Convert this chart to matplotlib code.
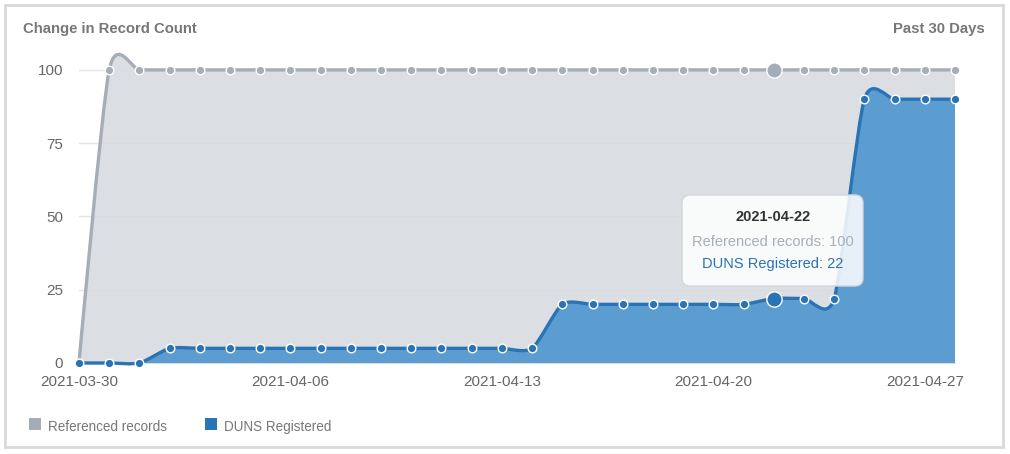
import matplotlib
matplotlib.use("Agg")

import matplotlib.dates as mdates
import matplotlib.pyplot as plt
import pandas as pd
from matplotlib.patches import FancyBboxPatch, PathPatch, Rectangle
from matplotlib.path import Path
from matplotlib.transforms import IdentityTransform

plt.rcParams["font.family"] = ["Liberation Sans", "DejaVu Sans"]

# data (one point per day)
dates = pd.date_range("2021-03-30", periods=30, freq="D")
referenced = [0, 100, 100, 100, 100, 100, 100, 100, 100, 100,
              100, 100, 100, 100, 100, 100, 100, 100, 100, 100,
              100, 100, 100, 100, 100, 100, 100, 100, 100, 100]
duns = [0, 0, 0, 5, 5, 5, 5, 5, 5, 5,
        5, 5, 5, 5, 5, 5, 20, 20, 20, 20,
        20, 20, 20, 22, 22, 22, 90, 90, 90, 90]
y_ticks = [0, 25, 50, 75, 100]
hover_idx = 23  # 2021-04-22

GRAY_LINE = "#a5aeb6"
GRAY_FILL = "#d8dbe0"
BLUE_LINE = "#2a73b5"
BLUE_FILL = "#579bd1"
TEXT = "#666666"

W, H = 1010, 454


def spline(xs, ys, smoothing=3.2):
    # highcharts-style spline control points
    n = len(xs)
    denom = smoothing + 1
    left = [(xs[i], ys[i]) for i in range(n)]
    right = list(left)
    for i in range(1, n - 1):
        x, y = xs[i], ys[i]
        lx = (smoothing * x + xs[i - 1]) / denom
        ly = (smoothing * y + ys[i - 1]) / denom
        rx = (smoothing * x + xs[i + 1]) / denom
        ry = (smoothing * y + ys[i + 1]) / denom
        corr = (ry - ly) * (rx - x) / (rx - lx) + y - ry
        left[i] = (lx, ly + corr)
        right[i] = (rx, ry + corr)
    verts = [(xs[0], ys[0])]
    codes = [Path.MOVETO]
    for i in range(1, n):
        verts += [right[i - 1], left[i], (xs[i], ys[i])]
        codes += [Path.CURVE4] * 3
    return verts, codes


def draw_series(ax, xs, ys, line_color, fill_color, fill_alpha, z):
    verts, codes = spline(xs, ys)
    area = Path(verts + [(xs[-1], 0), (xs[0], 0), (xs[0], 0)],
                codes + [Path.LINETO, Path.LINETO, Path.CLOSEPOLY])
    ax.add_patch(PathPatch(area, fc=fill_color, ec="none", alpha=fill_alpha, zorder=z))
    ax.add_patch(PathPatch(Path(verts, codes), fill=False, ec=line_color, lw=2.4,
                           capstyle="round", joinstyle="round", zorder=z + 0.1, clip_on=False))
    ax.plot(xs, ys, "o", ms=6.2, mfc=line_color, mec="white", mew=1.0,
            zorder=z + 0.2, clip_on=False)
    ax.plot([xs[hover_idx]], [ys[hover_idx]], "o", ms=11, mfc=line_color, mec="white",
            mew=1.0, zorder=z + 0.3, clip_on=False)


fig = plt.figure(figsize=(W / 100, H / 100), dpi=100)
ax = fig.add_axes([79 / W, 1 - 363 / H, (955 - 79) / W, (363 - 40) / H])

x = mdates.date2num(dates)
draw_series(ax, x, referenced, GRAY_LINE, GRAY_FILL, 0.9, 2)
draw_series(ax, x, duns, BLUE_LINE, BLUE_FILL, 0.97, 3)

ax.set_xlim(x[0], x[-1])
ax.set_ylim(0, 110.2)
ax.set_yticks(y_ticks)
ax.set_xticks(x[::7])
ax.set_xticklabels([d.strftime("%Y-%m-%d") for d in dates[::7]])
ax.tick_params(axis="both", length=0, labelsize=11, labelcolor=TEXT)
ax.tick_params(axis="y", pad=11.5)
ax.tick_params(axis="x", pad=9)
ax.yaxis.grid(True, color="#e4e4e4", lw=1)
ax.set_axisbelow(True)
for side in ["left", "right", "top"]:
    ax.spines[side].set_visible(False)
ax.spines["bottom"].set_color("#dcdcdc")

# outer frame
fig.patches.append(Rectangle((5 / W, 1 - 447 / H), 998 / W, 442 / H, transform=fig.transFigure,
                             fill=False, ec="#d9d9d9", lw=2))

fig.text(23 / W, 1 - 33 / H, "Change in Record Count", fontsize=10.7, fontweight="bold",
         color="#777777", va="baseline")
fig.text(985 / W, 1 - 33 / H, "Past 30 Days", fontsize=10.7, fontweight="bold",
         color="#777777", va="baseline", ha="right")

# legend
legend_items = [("Referenced records", GRAY_LINE, 29), ("DUNS Registered", BLUE_LINE, 205)]
for label, color, left in legend_items:
    fig.patches.append(Rectangle((left / W, 1 - 430 / H), 12 / W, 12 / H,
                                 transform=fig.transFigure, fc=color, ec="none"))
    fig.text((left + 19) / W, 1 - 427 / H, label, fontsize=9.75, color="#777777", va="center")

# tooltip
tip = FancyBboxPatch((682, H - 286), 181, 91, boxstyle="round,pad=0,rounding_size=8",
                     transform=IdentityTransform(), fc=(1, 1, 1, 0.86), ec="#d3d6da", lw=1,
                     zorder=10)
fig.patches.append(tip)
cx = 773 / W
fig.text(cx, 1 - 217 / H, dates[hover_idx].strftime("%Y-%m-%d"), fontsize=10.5,
         fontweight="bold", color="#333333", ha="center", va="center", zorder=11)
fig.text(cx, 1 - 242 / H, f"Referenced records: {referenced[hover_idx]}", fontsize=10.5,
         color="#a7afb7", ha="center", va="center", zorder=11)
fig.text(cx, 1 - 264 / H, f"DUNS Registered: {duns[hover_idx]}", fontsize=10.5,
         color=BLUE_LINE, ha="center", va="center", zorder=11)

fig.savefig("out.png", dpi=100)
